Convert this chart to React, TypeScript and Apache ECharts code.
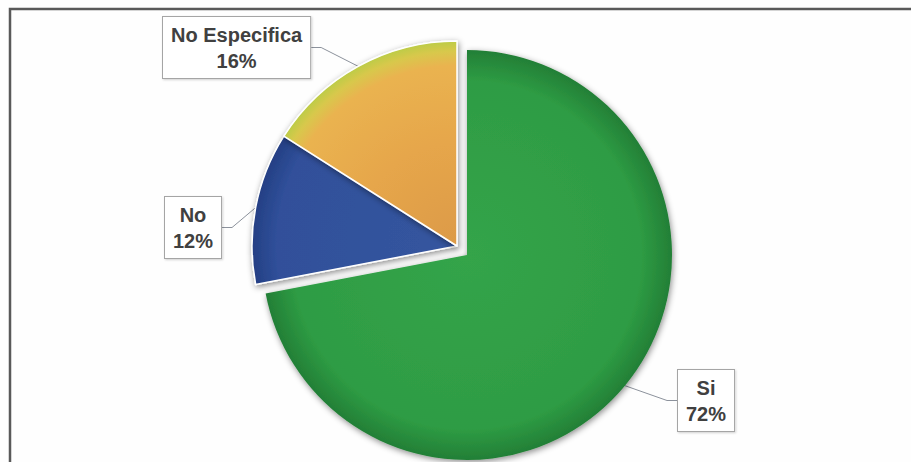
import React, { useEffect, useRef } from "react";
import * as echarts from "echarts";

const CATEGORIES = ["Si", "No", "No Especifica"];
const VALUES = [72, 12, 16];
// which slices are pulled out of the pie (Excel "point explosion")
const EXPLODED = [true, false, false];

const PIE_CENTER = [457, 246];
const EXPLODE_SHIFT = [10, 9];
const PIE_RADIUS = 205;
// top-left corner of each callout box
const LABEL_POS = [
  [678, 370],
  [165, 197],
  [163, 17],
];

const makeFills = (cx: number, cy: number) => [
  {
    type: "radial",
    x: cx,
    y: cy,
    r: PIE_RADIUS,
    global: true,
    colorStops: [
      { offset: 0, color: "#34a449" },
      { offset: 0.85, color: "#2e9c44" },
      { offset: 1, color: "#237f36" },
    ],
  },
  {
    type: "radial",
    x: cx,
    y: cy,
    r: PIE_RADIUS,
    global: true,
    colorStops: [
      { offset: 0, color: "#35559f" },
      { offset: 0.88, color: "#30509a" },
      { offset: 1, color: "#243f84" },
    ],
  },
  {
    type: "radial",
    x: cx,
    y: cy,
    r: PIE_RADIUS,
    global: true,
    colorStops: [
      { offset: 0, color: "#dc9a47" },
      { offset: 0.5, color: "#e6a64b" },
      { offset: 0.88, color: "#eab350" },
      { offset: 0.95, color: "#d8c84c" },
      { offset: 1, color: "#bccc46" },
    ],
  },
];

export default function App() {
  const ref = useRef<HTMLDivElement>(null);

  useEffect(() => {
    if (!ref.current) return;
    const chart = echarts.init(ref.current, null, { renderer: "svg" });

    const buildSeries = (exploded: boolean) => {
      const cx = PIE_CENTER[0] + (exploded ? EXPLODE_SHIFT[0] : 0);
      const cy = PIE_CENTER[1] + (exploded ? EXPLODE_SHIFT[1] : 0);
      const fills = makeFills(cx, cy);
      const data = CATEGORIES.map((name, i) => {
        const visible = EXPLODED[i] === exploded;
        return {
          name,
          value: VALUES[i],
          itemStyle: visible
            ? {
                color: fills[i],
                borderColor: "#ffffff",
                borderWidth: exploded ? 0 : 1.5,
                shadowBlur: 6,
                shadowColor: "rgba(0,0,0,0.45)",
                shadowOffsetX: 1,
                shadowOffsetY: 2,
              }
            : { color: "rgba(0,0,0,0)", borderWidth: 0, shadowBlur: 0 },
          label: { show: visible },
          labelLine: { show: visible },
        };
      });
      return {
        type: "pie",
        center: [cx, cy],
        radius: PIE_RADIUS,
        startAngle: 90,
        clockwise: true,
        avoidLabelOverlap: false,
        silent: true,
        emphasis: { disabled: true },
        data,
        label: {
          show: true,
          position: "outside",
          formatter: (p: any) => `{t|${p.name}\n${p.value}%}`,
          rich: {
            t: {
              fontFamily: "Liberation Sans",
              fontWeight: "bold",
              fontSize: 20,
              lineHeight: 26,
              color: "#404040",
              align: "center",
            },
          },
          fontFamily: "Liberation Sans",
          fontWeight: "bold",
          fontSize: 20,
          lineHeight: 26,
          color: "#404040",
          backgroundColor: "#ffffff",
          borderColor: "#a5a5a5",
          borderWidth: 1,
          padding: [5, 8, 4, 8],
          shadowColor: "rgba(0,0,0,0.18)",
          shadowBlur: 2,
          shadowOffsetX: 1,
          shadowOffsetY: 1,
        },
        labelLine: {
          show: true,
          length: 14,
          length2: 10,
          smooth: false,
          lineStyle: { color: "#8c929c", width: 1 },
        },
        labelLayout: (params: any) => {
          const pos = LABEL_POS[params.dataIndex];
          return {
            x: pos[0],
            y: pos[1],
            align: "left",
            verticalAlign: "top",
          };
        },
      };
    };

    chart.setOption({
      animation: false,
      backgroundColor: "#fefefe",
      graphic: [
        {
          type: "polyline",
          shape: {
            points: [
              [10, 470],
              [10, 9],
              [920, 9],
            ],
          },
          style: { stroke: "#595959", lineWidth: 2.5, fill: null },
          silent: true,
        },
      ],
      series: [buildSeries(true), buildSeries(false)],
    });

    return () => chart.dispose();
  }, []);

  return (
    <div
      ref={ref}
      style={{
        position: "fixed",
        left: 0,
        top: 0,
        width: 911,
        height: 462,
      }}
    />
  );
}
